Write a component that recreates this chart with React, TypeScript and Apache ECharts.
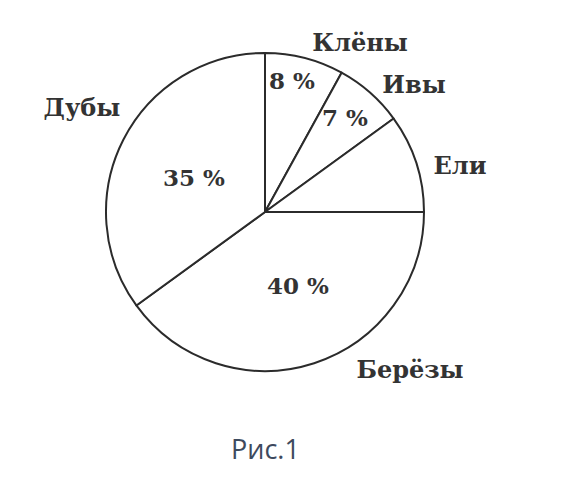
import React, { useEffect, useRef } from "react";
import * as echarts from "echarts";

const names = ["Клёны", "Ивы", "Ели", "Берёзы", "Дубы"];
const values = [8, 7, 10, 40, 35];
const innerLabels = ["8 %", "7 %", "", "40 %", "35 %"];
const caption = "Рис.1";

// label placement (layout only)
const innerPos: [number, number][] = [
  [292, 80],
  [345, 117],
  [0, 0],
  [298, 285],
  [194, 177],
];
const outerPos: [number, number][] = [
  [360, 42],
  [414, 84],
  [460, 165],
  [410, 369],
  [82, 107],
];

export default function App() {
  const ref = useRef<HTMLDivElement>(null);
  useEffect(() => {
    document.body.style.margin = "0";
    const chart = echarts.init(ref.current!, null, { renderer: "svg" });
    const font = "'DejaVu Serif', 'Liberation Serif', serif";
    const base = {
      type: "pie",
      center: [265, 212],
      radius: 159,
      startAngle: 90,
      clockwise: true,
      silent: true,
    };
    chart.setOption({
      animation: false,
      backgroundColor: "#ffffff",
      series: [
        {
          ...base,
          data: names.map((n, i) => ({ name: n, value: values[i] })),
          itemStyle: { color: "#ffffff", borderColor: "#2b2b2b", borderWidth: 2 },
          label: {
            show: true,
            position: "inside",
            formatter: (p: any) => innerLabels[p.dataIndex],
            fontFamily: font,
            fontWeight: "bold",
            fontSize: 23,
            color: "#333333",
            overflow: "none",
          },
          labelLine: { show: false },
          labelLayout: (p: any) => ({
            x: innerPos[p.dataIndex][0],
            y: innerPos[p.dataIndex][1],
            align: "center",
            verticalAlign: "middle",
          }),
        },
        {
          ...base,
          data: names.map((n, i) => ({ name: n, value: values[i] })),
          itemStyle: { color: "transparent", borderWidth: 0 },
          label: {
            show: true,
            position: "outside",
            formatter: "{b}",
            fontFamily: font,
            fontWeight: "bold",
            fontSize: 24,
            color: "#333333",
            overflow: "none",
            width: 200,
          },
          labelLine: { show: false },
          labelLayout: (p: any) => ({
            x: outerPos[p.dataIndex][0],
            y: outerPos[p.dataIndex][1],
            align: "center",
            verticalAlign: "middle",
          }),
        },
      ],
      graphic: [
        {
          type: "text",
          left: 231,
          top: 435,
          style: {
            text: caption,
            fontFamily: "'Open Sans', 'Noto Sans', sans-serif",
            fontSize: 27,
            fill: "#3e4a5e",
          },
        },
      ],
    });
    return () => chart.dispose();
  }, []);
  return <div ref={ref} style={{ width: 581, height: 491 }} />;
}
